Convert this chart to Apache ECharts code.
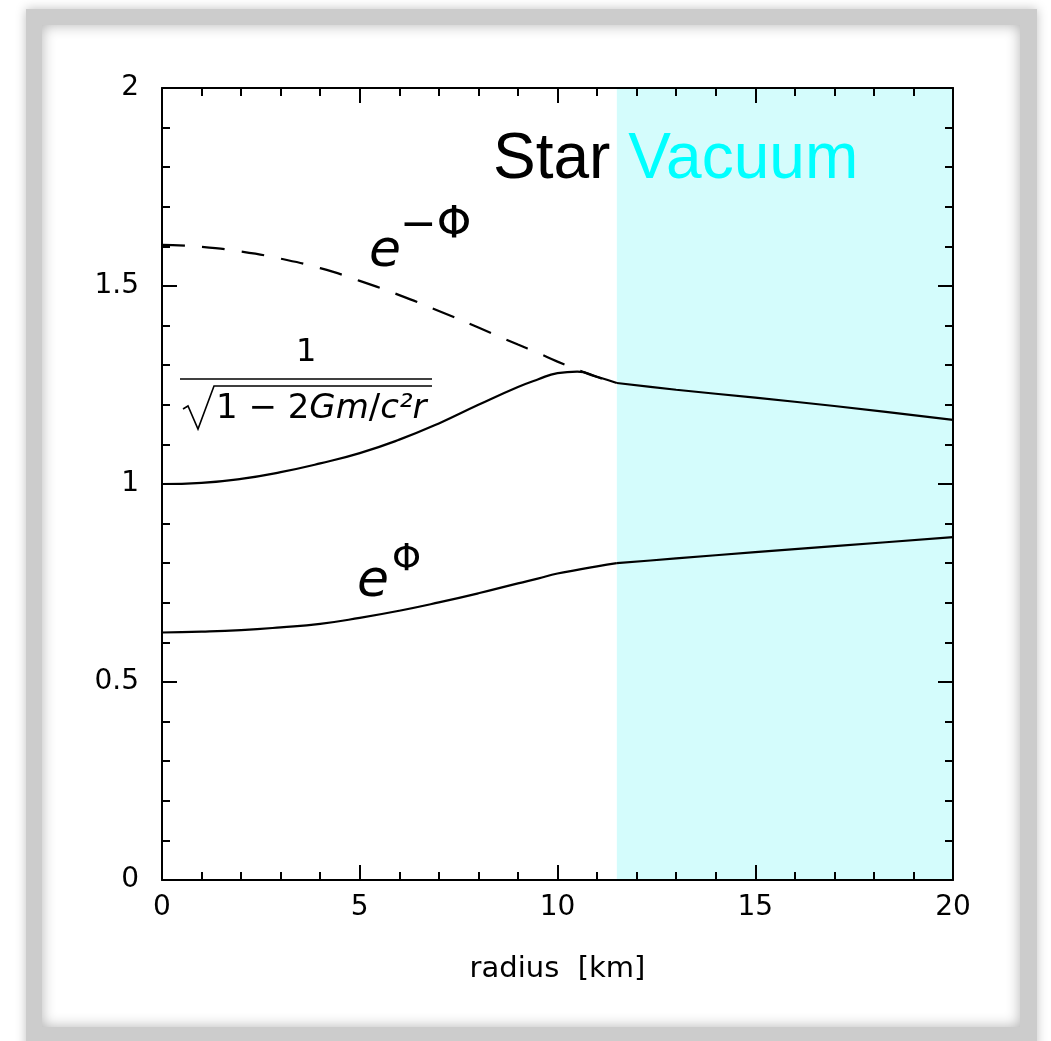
<!DOCTYPE html>
<html>
<head>
<meta charset="utf-8">
<script src="https://cdn.jsdelivr.net/npm/echarts@6/dist/echarts.min.js"></script>
<style>
html, body { margin: 0; padding: 0; background: #fff; overflow: hidden; }
#frame { position: absolute; left: 26px; top: 9px; width: 1011px; height: 1045px; background: #cccccc; box-shadow: 0 0 10px rgba(0,0,0,0.25); }
#paper { position: absolute; left: 42px; top: 25px; width: 978px; height: 1002px; background: #fff; box-shadow: inset 0 0 14px rgba(0,0,0,0.3); }
#main { position: absolute; left: 0; top: 0; width: 1051px; height: 1041px; }
</style>
</head>
<body>
<div id="frame"></div>
<div id="paper"></div>
<div id="main"></div>
<script>
// radius in km
const radiusStar = [0, 1, 2, 3, 4, 5, 6, 7, 8, 9, 9.5, 10, 10.5, 11, 11.5];
const ePhiStar = [0.625, 0.627, 0.631, 0.638, 0.647, 0.662, 0.680, 0.701, 0.724, 0.749, 0.761, 0.774, 0.783, 0.792, 0.800];
const eMinusPhiStar = [1.604, 1.599, 1.587, 1.569, 1.545, 1.513, 1.477, 1.437, 1.395, 1.352, 1.331, 1.309, 1.289, 1.270, 1.255];
const metricStar = [1.000, 1.003, 1.013, 1.030, 1.052, 1.078, 1.112, 1.153, 1.200, 1.245, 1.264, 1.280, 1.284, 1.271, 1.255];

const radiusVac = [11.5, 13, 15, 17, 20];
const ePhiVac = [0.800, 0.812, 0.828, 0.843, 0.866];
const eMinusPhiVac = [1.255, 1.238, 1.218, 1.197, 1.162];

const vacuumStart = 11.5;
const xRange = [0, 20];
const yRange = [0, 2];

const zip = (xs, ys) => xs.map((x, i) => [x, ys[i]]);

const tickFont = 'DejaVu Sans';
const mathFont = 'DejaVu Sans';
const titleFont = 'Liberation Sans';

function axisBase(pos, labels) {
  return {
    type: 'value',
    position: pos,
    z: 10,
    axisLine: { show: true, onZero: false, lineStyle: { color: '#000', width: 2 } },
    axisTick: { show: true, inside: true, length: 15, lineStyle: { color: '#000', width: 2 } },
    minorTick: { show: true, splitNumber: 5, length: 8, lineStyle: { color: '#000', width: 2 } },
    splitLine: { show: false },
    minorSplitLine: { show: false },
    axisLabel: labels
  };
}

const chart = echarts.init(document.getElementById('main'), null, { renderer: 'canvas' });

const lineStyle = { color: '#000', width: 2.2 };

chart.setOption({
  animation: false,
  backgroundColor: 'transparent',
  grid: { left: 162, right: 98, top: 88, bottom: 161, outerBoundsMode: 'none' },
  xAxis: [
    Object.assign(axisBase('bottom', { show: true, color: '#000', fontFamily: tickFont, fontSize: 28, margin: 14 }), {
      min: xRange[0], max: xRange[1], interval: 5,
      name: 'radius  [km]', nameLocation: 'middle', nameGap: 75,
      nameTextStyle: { color: '#000', fontFamily: mathFont, fontSize: 29 }
    }),
    Object.assign(axisBase('top', { show: false }), { min: xRange[0], max: xRange[1], interval: 5 })
  ],
  yAxis: [
    Object.assign(axisBase('left', { show: true, color: '#000', fontFamily: tickFont, fontSize: 28, margin: 23 }), {
      min: yRange[0], max: yRange[1], interval: 0.5
    }),
    Object.assign(axisBase('right', { show: false }), { min: yRange[0], max: yRange[1], interval: 0.5 })
  ],
  series: [
    {
      type: 'line', data: [], silent: true, z: 1,
      markArea: {
        silent: true,
        itemStyle: { color: '#d4fcfc' },
        data: [[{ xAxis: vacuumStart, yAxis: yRange[0] }, { xAxis: xRange[1], yAxis: yRange[1] }]]
      }
    },
    { type: 'line', data: zip(radiusStar, eMinusPhiStar), smooth: 0.5, showSymbol: false,
      lineStyle: Object.assign({ type: [23, 17] }, lineStyle) },
    { type: 'line', data: zip(radiusStar, metricStar), smooth: 0.5, showSymbol: false, lineStyle: lineStyle },
    { type: 'line', data: zip(radiusStar, ePhiStar), smooth: 0.5, showSymbol: false, lineStyle: lineStyle },
    { type: 'line', data: zip(radiusVac, eMinusPhiVac), smooth: 0.3, showSymbol: false, lineStyle: lineStyle },
    { type: 'line', data: zip(radiusVac, ePhiVac), smooth: 0.3, showSymbol: false, lineStyle: lineStyle }
  ],
  graphic: [
    {
      type: 'text', left: 493, top: 128, z: 20,
      style: {
        text: '{s|Star} {v|Vacuum}',
        fontFamily: titleFont, fontSize: 64,
        rich: {
          s: { fill: '#000', fontFamily: titleFont, fontSize: 64 },
          v: { fill: '#00ffff', fontFamily: titleFont, fontSize: 64 }
        }
      }
    },
    // e^{-Phi}
    { type: 'text', left: 369, top: 226, z: 20,
      style: { text: 'e', fill: '#000', fontFamily: mathFont, fontStyle: 'italic', fontSize: 52 } },
    { type: 'text', left: 400, top: 205, z: 20,
      style: { text: '−Φ', fill: '#000', fontFamily: mathFont, fontSize: 44 } },
    // e^{Phi}
    { type: 'text', left: 357, top: 556, z: 20,
      style: { text: 'e', fill: '#000', fontFamily: mathFont, fontStyle: 'italic', fontSize: 52 } },
    { type: 'text', left: 392, top: 542, z: 20,
      style: { text: 'Φ', fill: '#000', fontFamily: mathFont, fontSize: 37 } },
    // 1 / sqrt(1 - 2Gm/c^2 r)
    { type: 'text', left: 296, top: 337, z: 20,
      style: { text: '1', fill: '#000', fontFamily: mathFont, fontSize: 32 } },
    { type: 'line', z: 20, shape: { x1: 180, y1: 379, x2: 432, y2: 379 }, style: { stroke: '#000', lineWidth: 1.5 } },
    { type: 'polyline', z: 20, shape: { points: [[183, 409], [188, 406], [198, 429], [214, 386], [432, 386]] },
      style: { stroke: '#000', lineWidth: 1.6, fill: null } },
    { type: 'text', left: 216, top: 392, z: 20,
      style: {
        text: '{n|1 − 2}{i|Gm}{n|/}{i|c²r}',
        fontFamily: mathFont, fontSize: 34, fill: '#000',
        rich: {
          n: { fontFamily: mathFont, fontSize: 34, fill: '#000' },
          i: { fontFamily: mathFont, fontSize: 34, fontStyle: 'italic', fill: '#000' }
        }
      }
    }
  ]
});
</script>
</body>
</html>
